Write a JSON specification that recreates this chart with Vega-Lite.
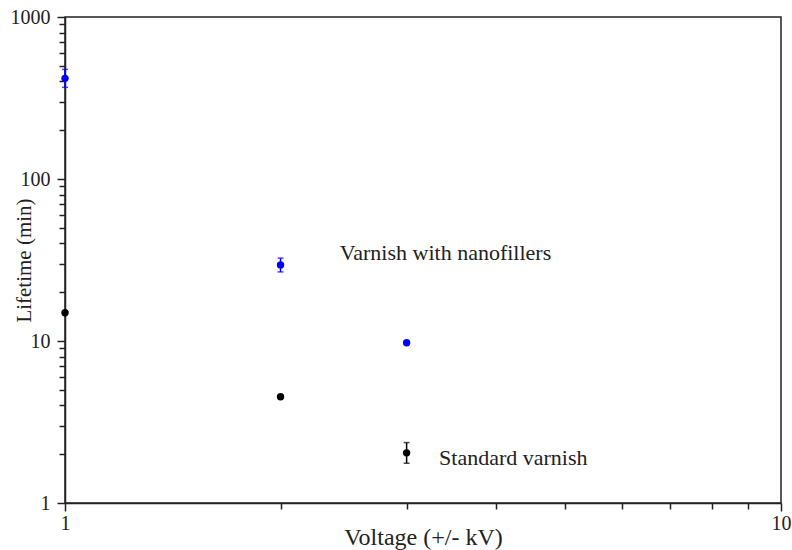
{
  "$schema": "https://vega.github.io/schema/vega-lite/v6.json",
  "width": 716,
  "height": 486,
  "autosize": "none",
  "padding": {"left": 65, "top": 17, "right": 11, "bottom": 47},
  "background": "white",
  "config": {"view": {"stroke": "#222", "strokeWidth": 1.5}, "font": "Liberation Serif"},
  "datasets": {
    "points": [
      {"voltage": 1, "lifetime": 418, "series": "Varnish with nanofillers", "lo": 368, "hi": 475},
      {"voltage": 2, "lifetime": 29.5, "series": "Varnish with nanofillers", "lo": 26.7, "hi": 32.5},
      {"voltage": 3, "lifetime": 9.76, "series": "Varnish with nanofillers", "lo": null, "hi": null},
      {"voltage": 1, "lifetime": 14.95, "series": "Standard varnish", "lo": null, "hi": null},
      {"voltage": 2, "lifetime": 4.53, "series": "Standard varnish", "lo": null, "hi": null},
      {"voltage": 3, "lifetime": 2.04, "series": "Standard varnish", "lo": 1.76, "hi": 2.36}
    ],
    "labels": [
      {"text": "Varnish with nanofillers", "voltage": 2.42, "lifetime": 31.6},
      {"text": "Standard varnish", "voltage": 3.33, "lifetime": 1.72}
    ]
  },
  "layer": [
    {
      "data": {"name": "points"},
      "transform": [{"filter": "datum.lo != null"}],
      "mark": {"type": "rule", "strokeWidth": 1.5},
      "encoding": {
        "x": {"field": "voltage", "type": "quantitative", "scale": {"type": "log", "domain": [1, 10], "nice": false}},
        "y": {"field": "lo", "type": "quantitative", "scale": {"type": "log", "domain": [1, 1000], "nice": false}},
        "y2": {"field": "hi"},
        "color": {"field": "series", "type": "nominal", "scale": {"domain": ["Varnish with nanofillers", "Standard varnish"], "range": ["#0000ff", "#000000"]}, "legend": null}
      }
    },
    {
      "data": {"name": "points"},
      "transform": [{"filter": "datum.lo != null"}, {"fold": ["lo", "hi"], "as": ["end", "val"]}],
      "mark": {"type": "tick", "orient": "horizontal", "size": 6, "thickness": 1.5},
      "encoding": {
        "x": {"field": "voltage", "type": "quantitative"},
        "y": {"field": "val", "type": "quantitative"},
        "color": {"field": "series", "type": "nominal", "legend": null}
      }
    },
    {
      "data": {"name": "points"},
      "mark": {"type": "circle", "size": 55, "opacity": 1, "clip": false},
      "encoding": {
        "x": {
          "field": "voltage", "type": "quantitative",
          "title": "Voltage (+/- kV)",
          "axis": {
            "values": [1, 2, 3, 4, 5, 6, 7, 8, 9, 10],
            "labelExpr": "datum.value == 1 || datum.value == 10 ? format(datum.value, 'd') : ''",
            "grid": false,
            "domainColor": "#222", "domainWidth": 1.5,
            "tickColor": "#222", "tickWidth": 1.5,
            "tickSize": {"condition": {"test": "datum.value == 1 || datum.value == 10", "value": 8}, "value": 6},
            "labelFont": "Liberation Serif", "labelFontSize": 20, "labelColor": "#222", "labelPadding": 2,
            "labelFlush": false,
            "titleFont": "Liberation Serif", "titleFontSize": 24, "titleFontWeight": "normal", "titleColor": "#222",
            "titleBaseline": "alphabetic", "titleY": 41
          }
        },
        "y": {
          "field": "lifetime", "type": "quantitative",
          "title": "Lifetime (min)",
          "axis": {
            "values": [1, 2, 3, 4, 5, 6, 7, 8, 9, 10, 20, 30, 40, 50, 60, 70, 80, 90, 100, 200, 300, 400, 500, 600, 700, 800, 900, 1000],
            "labelExpr": "datum.value == 1 || datum.value == 10 || datum.value == 100 || datum.value == 1000 ? format(datum.value, 'd') : ''",
            "grid": false,
            "domainColor": "#222", "domainWidth": 1.5,
            "tickColor": "#222", "tickWidth": 1.5,
            "tickSize": {"condition": {"test": "datum.value == 1 || datum.value == 10 || datum.value == 100 || datum.value == 1000", "value": 8}, "value": 6},
            "labelFont": "Liberation Serif", "labelFontSize": 20, "labelColor": "#222", "labelPadding": 7,
            "labelFlush": false,
            "titleFont": "Liberation Serif", "titleFontSize": 21, "titleFontWeight": "normal", "titleColor": "#222",
            "titleBaseline": "alphabetic", "titleX": -35, "titleY": 243, "titleAnchor": "middle"
          }
        },
        "color": {"field": "series", "type": "nominal", "legend": null}
      }
    },
    {
      "data": {"name": "labels"},
      "mark": {"type": "text", "align": "left", "baseline": "alphabetic", "font": "Liberation Serif", "fontSize": 22, "color": "#222"},
      "encoding": {
        "x": {"field": "voltage", "type": "quantitative"},
        "y": {"field": "lifetime", "type": "quantitative"},
        "text": {"field": "text"}
      }
    }
  ]
}
